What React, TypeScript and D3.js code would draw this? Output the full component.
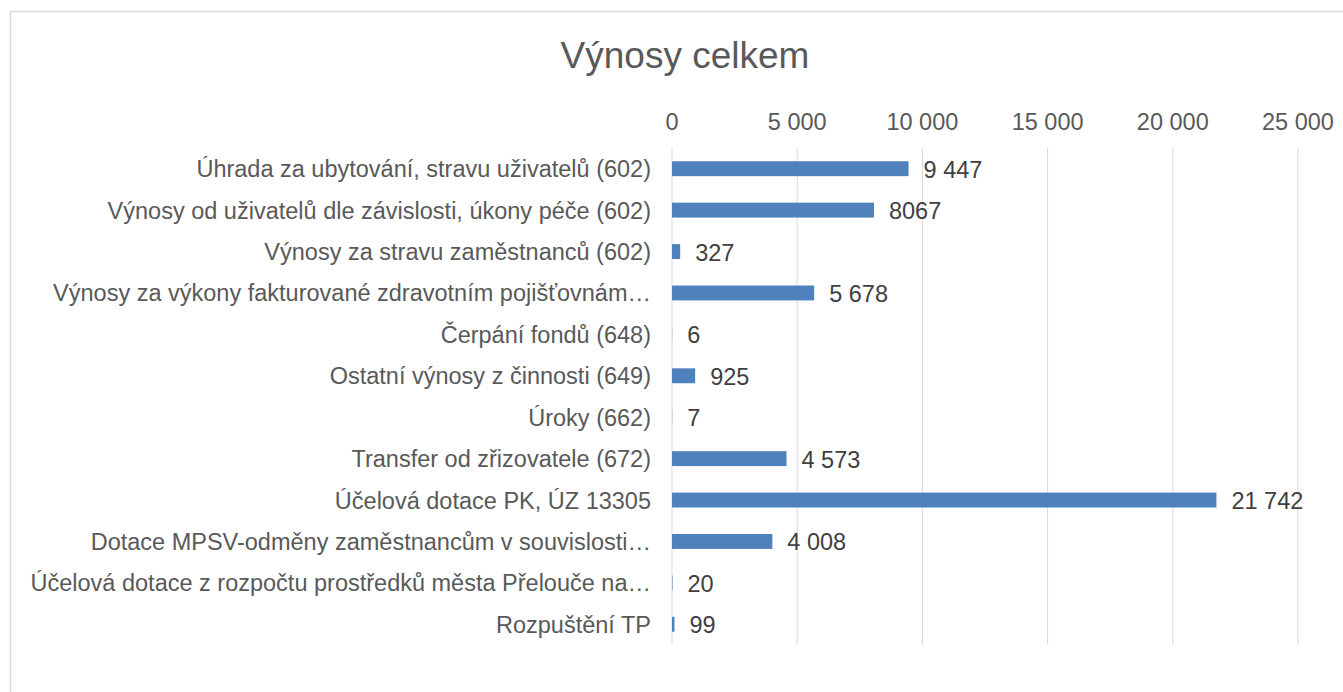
import React from 'react';
import * as d3 from 'd3';

const categories = [
  'Úhrada za ubytování, stravu uživatelů (602)',
  'Výnosy od uživatelů dle závislosti, úkony péče (602)',
  'Výnosy za stravu zaměstnanců (602)',
  'Výnosy za výkony fakturované zdravotním pojišťovnám…',
  'Čerpání fondů (648)',
  'Ostatní výnosy z činnosti (649)',
  'Úroky (662)',
  'Transfer od zřizovatele (672)',
  'Účelová dotace PK, ÚZ 13305',
  'Dotace MPSV-odměny zaměstnancům v souvislosti…',
  'Účelová dotace z rozpočtu prostředků města Přelouče na…',
  'Rozpuštění TP',
];
const values = [9447, 8067, 327, 5678, 6, 925, 7, 4573, 21742, 4008, 20, 99];
const valueLabels = ['9 447', '8067', '327', '5 678', '6', '925', '7', '4 573', '21 742', '4 008', '20', '99'];
const ticks = [0, 5000, 10000, 15000, 20000, 25000];
const tickLabels = ['0', '5 000', '10 000', '15 000', '20 000', '25 000'];

const W = 1343;
const H = 692;
const font = '"Liberation Sans", Arial, sans-serif';
const fs = 23.5;

export default function App() {
  const x = d3.scaleLinear().domain([0, 25000]).range([672, 1298]);
  const y = d3.scaleBand().domain(categories).range([148, 645]).paddingInner(0.64).paddingOuter(0.32);

  return (
    <svg width={W} height={H} style={{ position: 'absolute', left: 0, top: 0 }} fontFamily={font}>
      <rect x={0} y={0} width={W} height={H} fill="#fff" />
      <rect x={10.5} y={11.5} width={1345} height={700} fill="none" stroke="#d9d9d9" strokeWidth={1.5} />
      <text x={685} y={68} textAnchor="middle" fontSize={37} fill="#595959">Výnosy celkem</text>

      {ticks.map((t, i) => (
        <g key={t}>
          <line x1={x(t)} x2={x(t)} y1={148} y2={645} stroke="#d9d9d9" strokeWidth={1} />
          <text x={x(t)} y={129.5} textAnchor="middle" fontSize={fs} fill="#595959">{tickLabels[i]}</text>
        </g>
      ))}

      {categories.map((c, i) => {
        const yc = y(c)! + y.bandwidth() / 2;
        return (
          <g key={c}>
            <rect x={x(0)} y={y(c)} width={x(values[i]) - x(0)} height={y.bandwidth()} fill="#4f81bd" />
            <text x={651} y={yc + 8.5} textAnchor="end" fontSize={fs} fill="#595959">{c}</text>
            <text x={x(values[i]) + 15} y={yc + 9} fontSize={fs} fill="#404040">{valueLabels[i]}</text>
          </g>
        );
      })}
    </svg>
  );
}
